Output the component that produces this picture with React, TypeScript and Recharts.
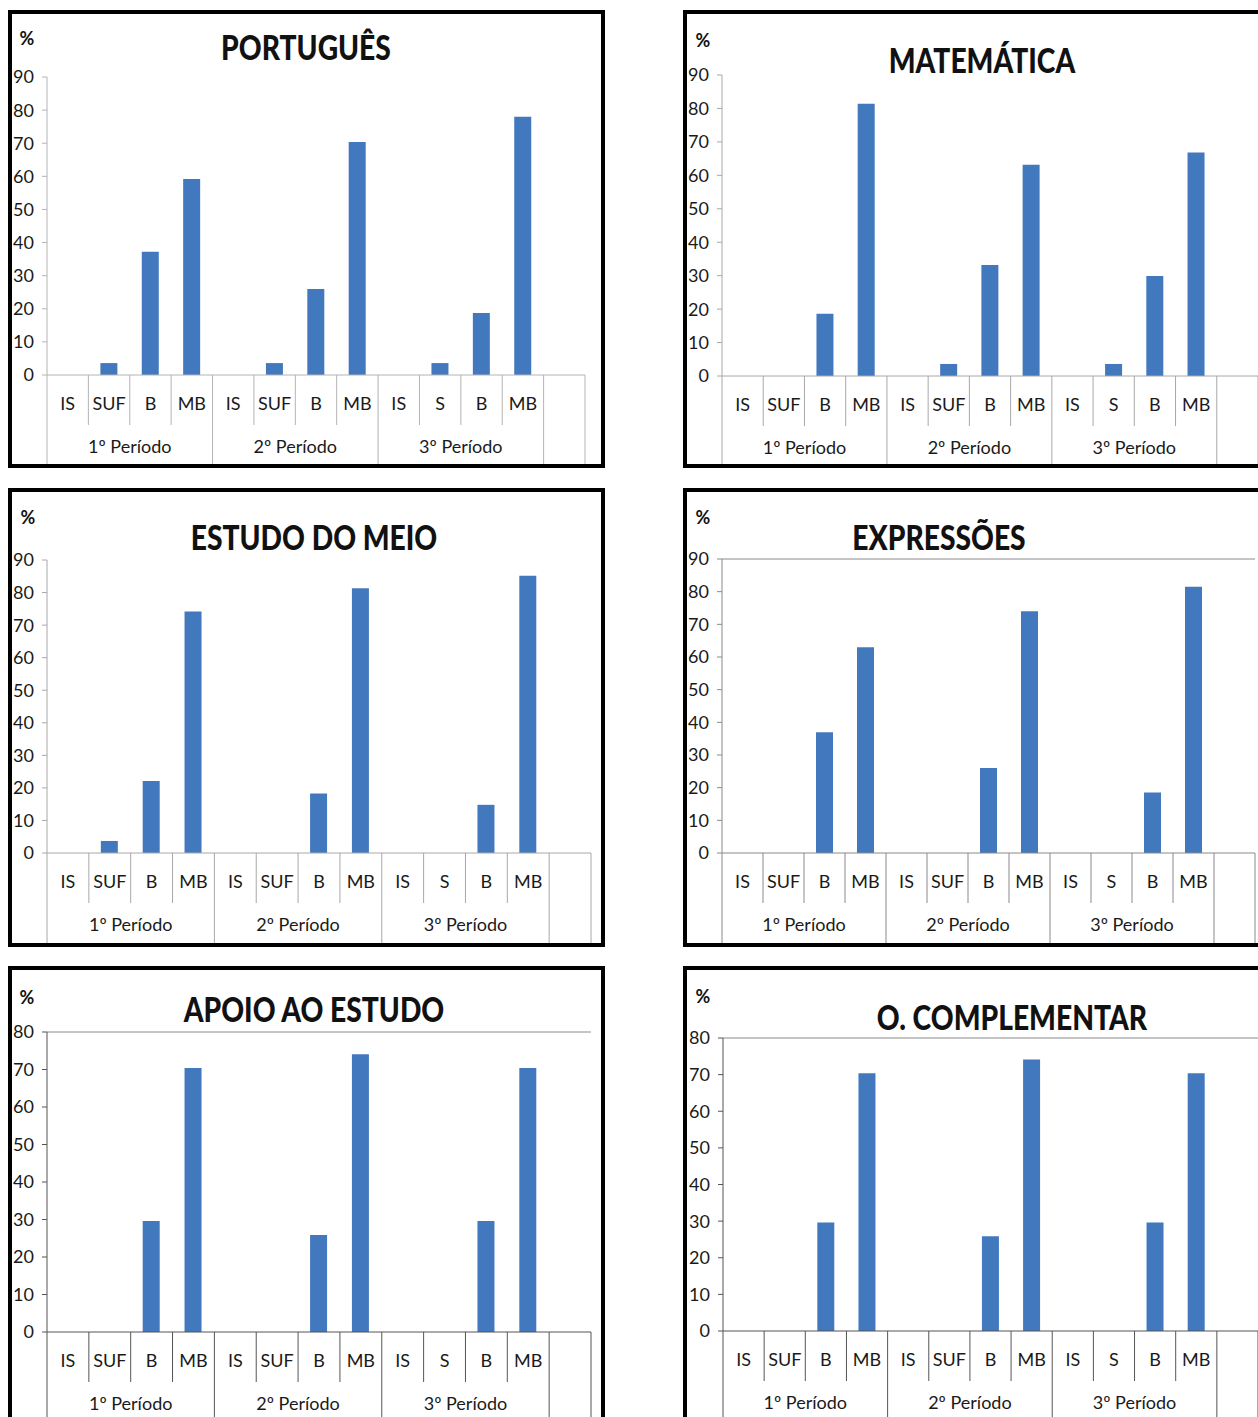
import { BarChart, Bar, XAxis, YAxis, ReferenceLine } from "recharts";

const categories = ["IS", "SUF", "B", "MB", "IS", "SUF", "B", "MB", "IS", "S", "B", "MB", ""];
const periods = ["1º Período", "2º Período", "3º Período"];

const portugues = [0, 3.6, 37.2, 59.2, 0, 3.6, 26, 70.4, 0, 3.6, 18.7, 78, null];
const matematica = [0, 0, 18.6, 81.4, 0, 3.6, 33.2, 63.2, 0, 3.6, 29.9, 66.8, null];
const estudoMeio = [0, 3.7, 22.1, 74.2, 0, 0, 18.3, 81.3, 0, 0, 14.8, 85.2, null];
const expressoes = [0, 0, 37, 63, 0, 0, 26, 74, 0, 0, 18.5, 81.5, null];
const apoioEstudo = [0, 0, 29.6, 70.4, 0, 0, 25.9, 74.1, 0, 0, 29.6, 70.4, null];
const complementar = [0, 0, 29.6, 70.4, 0, 0, 25.9, 74.1, 0, 0, 29.6, 70.4, null];

const ticks90 = [0, 10, 20, 30, 40, 50, 60, 70, 80, 90];
const ticks80 = [0, 10, 20, 30, 40, 50, 60, 70, 80];

const FONT = "Lato, 'Open Sans', sans-serif";
const BLUE = "#4279be";

type Panel = {
  title: string;
  values: (number | null)[];
  ticks: number[];
  box: { left: number; top: number; width: number; height: number };
  plot: { left: number; top: number; bottom: number; right: number };
  titleX: number;
  titleY: number;
  pctX: number;
  pctY: number;
  frame: boolean;
  lineColor: string;
};

const panels: Panel[] = [
  {
    title: "PORTUGUÊS", values: portugues, ticks: ticks90,
    box: { left: 8, top: 10, width: 597, height: 458 },
    plot: { left: 47, top: 77, bottom: 375, right: 585 },
    titleX: 306, titleY: 47, pctX: 27, pctY: 38, frame: false, lineColor: "#b4b4b4",
  },
  {
    title: "MATEMÁTICA", values: matematica, ticks: ticks90,
    box: { left: 683, top: 10, width: 600, height: 458 },
    plot: { left: 722, top: 75, bottom: 376, right: 1258 },
    titleX: 982, titleY: 60, pctX: 703, pctY: 40, frame: false, lineColor: "#a8a8a8",
  },
  {
    title: "ESTUDO DO MEIO", values: estudoMeio, ticks: ticks90,
    box: { left: 8, top: 488, width: 597, height: 459 },
    plot: { left: 47, top: 560, bottom: 853, right: 591 },
    titleX: 314, titleY: 537, pctX: 28, pctY: 517, frame: false, lineColor: "#a8a8a8",
  },
  {
    title: "EXPRESSÕES", values: expressoes, ticks: ticks90,
    box: { left: 683, top: 488, width: 600, height: 459 },
    plot: { left: 722, top: 559, bottom: 853, right: 1255 },
    titleX: 939, titleY: 537, pctX: 703, pctY: 517, frame: true, lineColor: "#8a8a8a",
  },
  {
    title: "APOIO AO ESTUDO", values: apoioEstudo, ticks: ticks80,
    box: { left: 8, top: 966, width: 597, height: 500 },
    plot: { left: 47, top: 1032, bottom: 1332, right: 591 },
    titleX: 314, titleY: 1009, pctX: 27, pctY: 997, frame: true, lineColor: "#555555",
  },
  {
    title: "O. COMPLEMENTAR", values: complementar, ticks: ticks80,
    box: { left: 683, top: 966, width: 600, height: 500 },
    plot: { left: 723, top: 1038, bottom: 1331, right: 1258 },
    titleX: 1012, titleY: 1017, pctX: 703, pctY: 996, frame: true, lineColor: "#555555",
  },
];

const BORDER = 4;
const YW = 45;
const MT = 12;

function SubjectChart({ p }: { p: Panel }) {
  const plotW = p.plot.right - p.plot.left;
  const plotH = p.plot.bottom - p.plot.top;
  const innerBottom = Math.min(p.box.top + p.box.height - BORDER, 1417);
  const xH = innerBottom - p.plot.bottom;
  const slot = plotW / categories.length;
  const data = categories.map((c, i) => ({ id: i, cat: c, v: p.values[i] }));
  const axisY = MT + plotH;
  const chartBottom = axisY + xH;

  const renderTick = (props: any) => {
    const { x, index } = props;
    const left = x - slot / 2;
    const long = index % 4 === 0;
    return (
      <g>
        <line x1={left} x2={left} y1={axisY} y2={long ? chartBottom : axisY + 50} stroke={p.lineColor} strokeWidth={1} />
        {index === categories.length - 1 && (
          <line x1={x + slot / 2} x2={x + slot / 2} y1={axisY} y2={chartBottom} stroke={p.lineColor} strokeWidth={1} />
        )}
        <text x={x} y={axisY + 30} textAnchor="middle" dominantBaseline="middle" fontSize={18} fontFamily={FONT} fill="#1a1a1a">
          {categories[index]}
        </text>
        {long && index / 4 < periods.length && (
          <text x={left + 2 * slot} y={axisY + 73} textAnchor="middle" dominantBaseline="middle" fontSize={18} fontFamily={FONT} fill="#1a1a1a">
            {periods[index / 4]}
          </text>
        )}
      </g>
    );
  };

  return (
    <div style={{ position: "absolute", left: p.plot.left - YW, top: p.plot.top - MT }}>
      <BarChart
        width={YW + plotW + 2}
        height={chartBottom}
        data={data}
        margin={{ top: MT, right: 2, bottom: 0, left: 0 }}
        barSize={17}
      >
        <XAxis
          dataKey="id"
          type="category"
          interval={0}
          height={xH}
          tickSize={0}
          tickLine={false}
          axisLine={{ stroke: p.lineColor }}
          tick={renderTick}
        />
        <YAxis
          width={YW}
          domain={[0, p.ticks[p.ticks.length - 1]]}
          ticks={p.ticks}
          interval={0}
          tickSize={5}
          tickMargin={8}
          axisLine={{ stroke: p.lineColor }}
          tickLine={{ stroke: p.lineColor }}
          tick={{ fontSize: 18, fontFamily: FONT, fill: "#1a1a1a" }}
        />
        {p.frame && (
          <YAxis yAxisId="r" orientation="right" width={0} tick={false} axisLine={{ stroke: "#8a8a8a" }} />
        )}
        {p.frame && (
          <ReferenceLine y={p.ticks[p.ticks.length - 1]} stroke="#8a8a8a" strokeWidth={1} />
        )}
        <Bar dataKey="v" fill={BLUE} isAnimationActive={false} />
      </BarChart>
    </div>
  );
}

export default function App() {
  return (
    <div
      style={{
        position: "fixed",
        left: 0,
        top: 0,
        width: 1258,
        height: 1417,
        overflow: "hidden",
        background: "#fff",
        fontFamily: FONT,
      }}
    >
      {panels.map((p) => (
        <div key={p.title}>
          <div
            style={{
              position: "absolute",
              left: p.box.left,
              top: p.box.top,
              width: p.box.width,
              height: p.box.height,
              border: `${BORDER}px solid #000`,
              boxSizing: "border-box",
            }}
          />
          <SubjectChart p={p} />
          <div
            style={{
              position: "absolute",
              left: p.titleX - 200,
              top: p.titleY - 22,
              width: 400,
              textAlign: "center",
              fontSize: 34,
              fontWeight: 900,
              lineHeight: "44px",
              transform: "scaleX(0.83)",
              color: "#111",
            }}
          >
            {p.title}
          </div>
          <div
            style={{
              position: "absolute",
              left: p.pctX - 12,
              top: p.pctY - 12,
              width: 24,
              textAlign: "center",
              fontSize: 18,
              fontWeight: 700,
              lineHeight: "24px",
              color: "#111",
            }}
          >
            %
          </div>
        </div>
      ))}
    </div>
  );
}
